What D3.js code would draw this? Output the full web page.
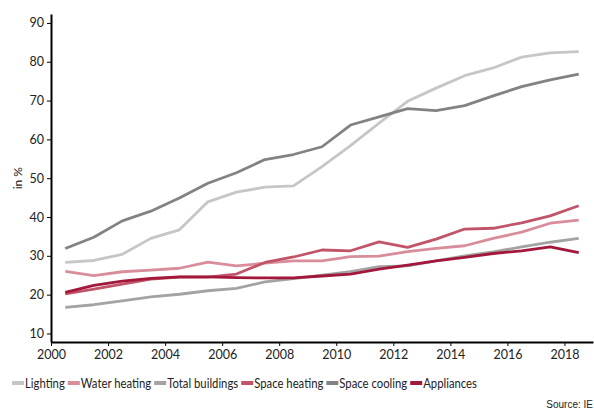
<!DOCTYPE html>
<html>
<head>
<meta charset="utf-8">
<script src="https://cdn.jsdelivr.net/npm/d3@7"></script>
<style>
  body { margin: 0; background: #fff; }
  svg text { font-family: Lato, "Open Sans", sans-serif; }
</style>
</head>
<body>
<div id="viz"></div>
<script>
// years (points sit in the middle of each year)
var years = [2000, 2001, 2002, 2003, 2004, 2005, 2006, 2007, 2008, 2009,
             2010, 2011, 2012, 2013, 2014, 2015, 2016, 2017, 2018];

var lighting      = [28.3, 28.8, 30.4, 34.5, 36.7, 43.9, 46.4, 47.7, 48.0, 53.0, 58.4, 64.2, 69.8, 73.2, 76.4, 78.4, 81.2, 82.3, 82.6];
var waterHeating  = [26.0, 24.9, 25.9, 26.3, 26.8, 28.4, 27.4, 28.1, 28.7, 28.7, 29.8, 29.9, 31.1, 31.9, 32.6, 34.5, 36.1, 38.4, 39.2];
var totalBuild    = [16.7, 17.4, 18.4, 19.4, 20.1, 21.0, 21.6, 23.3, 24.1, 25.0, 25.9, 27.2, 27.4, 28.7, 30.0, 31.0, 32.3, 33.5, 34.5];
var spaceHeating  = [20.2, 21.4, 22.7, 24.0, 24.5, 24.5, 25.3, 28.3, 29.7, 31.5, 31.3, 33.6, 32.2, 34.3, 36.9, 37.1, 38.5, 40.3, 42.9];
var spaceCooling  = [31.9, 34.8, 39.0, 41.5, 44.9, 48.7, 51.4, 54.8, 56.1, 58.1, 63.7, 65.8, 67.9, 67.4, 68.7, 71.2, 73.6, 75.3, 76.8];
var appliances    = [20.6, 22.4, 23.5, 24.2, 24.6, 24.6, 24.4, 24.3, 24.3, 24.8, 25.3, 26.6, 27.6, 28.7, 29.6, 30.6, 31.3, 32.3, 30.8];

var seriesNames  = ["Lighting", "Water heating", "Total buildings", "Space heating", "Space cooling", "Appliances"];
var seriesValues = [lighting, waterHeating, totalBuild, spaceHeating, spaceCooling, appliances];
var seriesColors = ["#c6c6c6", "#d98d9b", "#a3a3a3", "#c15468", "#828282", "#a3173a"];

var xTicks = [2000, 2002, 2004, 2006, 2008, 2010, 2012, 2014, 2016, 2018];
var yTicks = [10, 20, 30, 40, 50, 60, 70, 80, 90];

var W = 594, H = 412;
var margin = {top: 14, right: 1, bottom: 70, left: 51};

var svg = d3.select("#viz").append("svg")
    .attr("width", W)
    .attr("height", H);

var x = d3.scaleLinear().domain([2000, 2019]).range([margin.left, W - margin.right]);
var y = d3.scaleLinear().domain([7.8, 92.3]).range([H - margin.bottom, margin.top]);

// axes
var yAxis = svg.append("g")
    .attr("transform", "translate(" + margin.left + ",0)")
    .call(d3.axisLeft(y).tickValues(yTicks).tickSize(4).tickSizeOuter(0).tickPadding(3));

var xAxis = svg.append("g")
    .attr("transform", "translate(0," + (H - margin.bottom) + ")")
    .call(d3.axisBottom(x).tickValues(xTicks).tickFormat(d3.format("d")).tickSize(4).tickSizeOuter(0).tickPadding(4));

[yAxis, xAxis].forEach(function(ax) {
    ax.select(".domain").attr("stroke", "#000").attr("stroke-width", 2);
    ax.selectAll(".tick line").attr("stroke", "#000").attr("stroke-width", 1);
    ax.selectAll(".tick text")
        .attr("fill", "#222")
        .style("font-size", "12.5px");
});

// y label
svg.append("text")
    .attr("transform", "translate(22," + y(50) + ") rotate(-90)")
    .attr("text-anchor", "middle")
    .attr("fill", "#222")
    .style("font-size", "12px")
    .text("in %");

// lines
var line = d3.line()
    .x(function(d, i) { return x(years[i] + 0.5); })
    .y(function(d) { return y(d); });

seriesValues.forEach(function(vals, k) {
    svg.append("path")
        .datum(vals)
        .attr("fill", "none")
        .attr("stroke", seriesColors[k])
        .attr("stroke-width", 2.8)
        .attr("stroke-linejoin", "round")
        .attr("d", line);
});

// legend - the original font is narrower, so squeeze the labels to the same overall width
var legend = svg.append("g").attr("transform", "translate(12,383)");
var legendWidth = 468, swW = 12, gap = 3;
var labels = seriesNames.map(function(name) {
    return legend.append("text")
        .attr("y", 0)
        .attr("dy", "0.35em")
        .attr("fill", "#222")
        .style("font-size", "13px")
        .text(name);
});
var natural = labels.map(function(t) { return t.node().getComputedTextLength(); });
var squeeze = (legendWidth - seriesNames.length * (swW + 1 + gap)) / d3.sum(natural);
var lx = 0;
labels.forEach(function(t, k) {
    var w = natural[k] * squeeze;
    legend.append("rect")
        .attr("x", lx).attr("y", -2)
        .attr("width", swW).attr("height", 4)
        .attr("fill", seriesColors[k]);
    t.attr("x", lx + swW + 1)
        .attr("textLength", w)
        .attr("lengthAdjust", "spacingAndGlyphs");
    lx += swW + 1 + w + gap;
});

// source
svg.append("text")
    .attr("x", W - 1).attr("y", 408)
    .attr("text-anchor", "end")
    .attr("fill", "#222")
    .style("font-family", "Arial, 'Liberation Sans', sans-serif")
    .style("font-size", "10px")
    .text("Source: IE");
</script>
</body>
</html>
